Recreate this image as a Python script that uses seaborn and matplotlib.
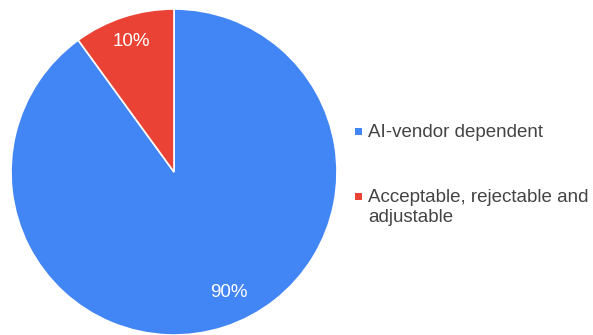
import matplotlib
matplotlib.use("Agg")
import matplotlib.pyplot as plt
import seaborn as sns
from matplotlib.patches import Rectangle

# ---- data ----
categories = ["AI-vendor dependent", "Acceptable, rejectable and\nadjustable"]
values = [90, 10]
colors = ["#4285F4", "#EA4335"]

sns.set_style("white")
plt.rcParams["font.family"] = ["Liberation Sans", "DejaVu Sans"]

W, H = 593, 335
fig = plt.figure(figsize=(W / 100, H / 100), dpi=100)
fig.patch.set_facecolor("white")

# pie axes: center (174,172), radius 163 px
cx, cy, r = 174, 172, 163
ax = fig.add_axes([(cx - r) / W, 1 - (cy + r) / H, 2 * r / W, 2 * r / H])
ax.set_axis_off()

wedges, texts, autotexts = ax.pie(
    values,
    colors=colors,
    startangle=90,
    counterclock=False,
    autopct=lambda p: f"{p:.0f}%",
    pctdistance=0.83,
    wedgeprops=dict(edgecolor="white", linewidth=1.2),
    textprops=dict(color="white", fontsize=13.5),
    radius=1.0,
)
ax.set_xlim(-1, 1)
ax.set_ylim(-1, 1)
ax.set_aspect("equal")

# nudge labels like the reference
autotexts[0].set_position((0.337, -0.742))
autotexts[1].set_position((-0.264, 0.80))

# legend drawn manually
text_color = "#444444"
items = [(categories[0], colors[0], 131.5, 137), (categories[1], colors[1], 196, 202)]
for label, col, sq_y, base_y in items:
    sq = 7
    fig.add_artist(Rectangle((355 / W, 1 - (sq_y + sq / 2) / H), sq / W, sq / H,
                             transform=fig.transFigure, facecolor=col, edgecolor="none"))
    fig.text(368 / W, 1 - base_y / H, label.split("\n")[0], fontsize=13.5,
             color=text_color, va="baseline", ha="left")
    if "\n" in label:
        fig.text(368 / W, 1 - (base_y + 19.5) / H, label.split("\n")[1], fontsize=13.5,
                 color=text_color, va="baseline", ha="left")

fig.savefig("out.png", dpi=100, facecolor="white")
